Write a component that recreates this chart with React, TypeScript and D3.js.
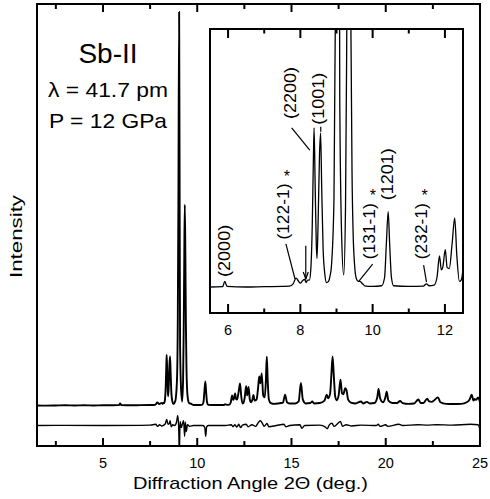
import React from "react";
import * as d3 from "d3";

// ---------- DATA ----------
// Observed pattern: [2Theta (deg), intensity (arb. units)]
const observedPattern: [number, number][] = [
  [1.5, 0.0], [2.0, -0.05], [2.5, 0.0], [3.0, 0.05], [3.5, 0.0], [4.0, 0.05], [4.5, 0.0],
  [5.0, 0.05], [5.5, 0.05], [5.85, 0.08], [5.91, 0.5], [5.97, 0.1], [6.5, 0.05], [7.0, 0.08],
  [7.5, 0.1], [7.7, 0.12], [7.8, 0.3], [7.88, 0.75], [7.95, 0.5], [8.0, 0.35], [8.06, 0.55],
  [8.12, 0.65], [8.16, 0.4], [8.2, 0.6], [8.25, 0.6], [8.29, 1.5], [8.33, 5], [8.36, 10],
  [8.38, 12.6], [8.41, 8], [8.44, 3.5], [8.46, 2.3], [8.49, 5], [8.53, 10.5], [8.56, 12.2],
  [8.59, 8], [8.63, 3], [8.68, 1.0], [8.72, 0.4], [8.78, 0.5], [8.82, 0.9], [8.86, 1.7],
  [8.93, 7], [8.97, 22], [9.0, 50], [9.04, 98], [9.07, 45], [9.09, 15], [9.14, 4.3],
  [9.2, 1.0], [9.25, 6.5], [9.28, 18], [9.31, 35], [9.34, 50], [9.37, 38], [9.4, 20],
  [9.43, 9], [9.46, 4.3], [9.5, 1.8], [9.55, 0.7], [9.6, 0.5], [9.65, 0.5], [9.72, 0.3],
  [9.8, 0.12], [10.0, 0.1], [10.25, 0.15], [10.33, 0.8], [10.38, 3.5], [10.43, 6.0],
  [10.47, 3.5], [10.52, 0.8], [10.58, 0.15], [11.0, 0.1], [11.4, 0.12], [11.49, 0.3],
  [11.56, 0.15], [11.7, 0.2], [11.78, 0.8], [11.85, 2.5], [11.9, 1.4], [11.94, 1.6],
  [12.01, 3.0], [12.06, 1.6], [12.12, 1.5], [12.2, 3.5], [12.27, 5.5], [12.33, 2.5],
  [12.4, 0.5], [12.45, 0.6], [12.52, 2.0], [12.59, 4.8], [12.65, 2.5], [12.72, 4.6],
  [12.79, 1.5], [12.86, 0.8], [12.93, 1.5], [12.98, 2.6], [13.05, 1.2], [13.15, 1.5],
  [13.22, 4], [13.29, 7.2], [13.35, 5.5], [13.42, 8.0], [13.5, 2.5], [13.58, 2.0],
  [13.64, 6], [13.69, 12.2], [13.74, 6], [13.8, 1.5], [13.9, 0.6], [14.1, 0.4], [14.3, 0.5],
  [14.55, 0.7], [14.66, 2.7], [14.76, 0.8], [14.9, 0.5], [15.2, 0.5], [15.38, 1.0],
  [15.5, 5.6], [15.6, 1.5], [15.75, 0.5], [16.0, 0.6], [16.1, 1.0], [16.2, 0.5], [16.5, 0.6],
  [16.75, 1.2], [16.87, 2.7], [16.95, 1.8], [17.05, 3], [17.12, 8], [17.18, 12.2],
  [17.25, 7], [17.32, 2.2], [17.4, 1.3], [17.5, 2.5], [17.6, 6.4], [17.68, 3.0],
  [17.75, 2.8], [17.85, 4.3], [17.92, 3.8], [18.0, 1.5], [18.15, 0.7], [18.4, 0.5],
  [18.69, 1.0], [18.8, 0.5], [19.0, 0.9], [19.15, 0.5], [19.4, 0.6], [19.55, 2.0],
  [19.62, 4.1], [19.7, 1.8], [19.85, 0.8], [19.98, 2.0], [20.05, 3.4], [20.14, 1.2],
  [20.35, 0.6], [20.6, 0.6], [20.76, 1.1], [20.9, 0.6], [21.2, 0.4], [21.5, 0.5],
  [21.73, 1.5], [21.85, 0.6], [22.0, 0.6], [22.2, 1.7], [22.3, 1.0], [22.45, 0.9],
  [22.62, 1.5], [22.77, 2.0], [22.9, 0.8], [23.2, 0.4], [23.6, 0.35], [24.0, 0.4],
  [24.3, 0.8], [24.45, 1.5], [24.56, 2.7], [24.65, 1.2], [24.72, 1.6], [24.8, 1.4],
  [24.9, 2.0], [25.0, 0.8],
];

// Difference (observed - calculated): [2Theta, residual]
const differencePattern: [number, number][] = [
  [1.5, 0.0], [3.0, 0.05], [5.0, 0.0], [7.0, 0.05], [7.5, 0.1], [7.8, 0.3], [7.9, -0.2],
  [8.0, 0.2], [8.1, -0.1], [8.3, 0.4], [8.38, 1.5], [8.45, 0.3], [8.52, 0.5], [8.56, 1.2],
  [8.62, -0.3], [8.7, 0.2], [8.8, 0.0], [8.9, 0.8], [8.97, 2.5], [9.02, -1], [9.05, -7],
  [9.09, 1.0], [9.15, -0.5], [9.22, 0.5], [9.28, 1.2], [9.33, -2.7], [9.37, 0.8],
  [9.42, -1.5], [9.48, 0.2], [9.6, -0.2], [9.8, 0.0], [10.3, 0.0], [10.4, -0.5],
  [10.45, -2.7], [10.5, -0.3], [10.6, 0.0], [11.5, 0.0], [11.8, 0.2], [11.9, -0.3],
  [12.0, 0.2], [12.1, -0.4], [12.2, 0.3], [12.3, -0.5], [12.4, 0.1], [12.6, 0.3],
  [12.7, -0.3], [12.9, 0.2], [13.1, -0.2], [13.25, 0.8], [13.35, 1.2], [13.45, 0.6],
  [13.55, -0.2], [13.7, 0.5], [13.8, -0.3], [14.2, 0.0], [14.6, 0.3], [14.7, -0.3],
  [14.9, 0.0], [15.45, 0.2], [15.55, -0.7], [15.7, 0.0], [16.5, 0.1], [16.8, -0.4],
  [16.9, -0.8], [17.0, 0.1], [17.15, 0.6], [17.25, -0.2], [17.6, 1.0], [17.7, -0.2],
  [17.9, 0.2], [18.2, -0.1], [18.7, 0.1], [19.5, 0.0], [19.6, 0.3], [19.7, -0.2],
  [20.0, 0.2], [20.1, -0.2], [20.7, 0.3], [20.9, 0.0], [21.7, 0.2], [22.2, 0.1],
  [22.7, 0.2], [23.5, 0.1], [24.5, 0.3], [24.9, 0.2], [25.0, -1.2],
];
const differenceOffset = -5;

const mainTickValues = [2.5, 5, 7.5, 10, 12.5, 15, 17.5, 20, 22.5, 25];
const mainTickLabels = [5, 10, 15, 20, 25];
const insetTickValues = [6, 7, 8, 9, 10, 11, 12];
const insetTickLabels = [6, 8, 10, 12];

const titleLines = ["Sb-II", "\u03bb = 41.7 pm", "P = 12 GPa"];
const xAxisTitle = "Diffraction Angle 2\u0398 (deg.)";
const yAxisTitle = "Intensity";

// Peak labels in inset: text, 2Theta of column, intensity level of column centre, star
const peakLabels = [
  { text: "(2000)", angle: 5.94, level: 2.9, star: false },
  { text: "(122-1)", angle: 7.57, level: 6.0, star: true },
  { text: "(2200)", angle: 7.77, level: 15.35, star: false },
  { text: "(1001)", angle: 8.54, level: 14.9, star: false },
  { text: "(131-1)", angle: 9.95, level: 4.45, star: true },
  { text: "(1201)", angle: 10.44, level: 8.95, star: false },
  { text: "(232-1)", angle: 11.38, level: 4.45, star: true },
];
// Leader lines in inset data units: [angle1, level1, angle2, level2]
const leaderLines: [number, number, number, number][] = [
  [7.6, 3.45, 7.85, 0.7],
  [7.76, 12.6, 8.26, 10.85],
  [8.565, 12.7, 8.565, 12.3],
  [10.0, 1.86, 9.62, 0.52],
  [11.41, 1.78, 11.49, 0.44],
];
const markerArrow = { angle: 8.15, from: 3.3, to: 0.68 };

export default function App() {
  const W = 490;
  const H = 499;
  const font = "'Liberation Sans', Arial, Helvetica, sans-serif";

  // main plot scales
  const x = d3.scaleLinear().domain([1.5, 25]).range([37, 480]);
  const y = d3.scaleLinear().domain([-10.1, 100]).range([446, 4]);
  const [x0, x1] = x.range();
  const [y0, y1] = [y.range()[1], y.range()[0]];

  // inset scales
  const xi = d3.scaleLinear().domain([5.5, 12.5]).range([210, 463]);
  const yi = d3.scaleLinear().domain([-2, 20.4]).range([313, 29]);
  const [ix0, ix1] = xi.range();
  const [iy0, iy1] = [yi.range()[1], yi.range()[0]];

  const mainLine = d3
    .line<[number, number]>()
    .x((d) => x(d[0]))
    .y((d) => y(d[1]))
    .curve(d3.curveMonotoneX);
  const diffLine = d3
    .line<[number, number]>()
    .x((d) => x(d[0]))
    .y((d) => y(d[1] + differenceOffset))
    .curve(d3.curveMonotoneX);
  const insetData = observedPattern.filter((d) => d[0] >= 5.4 && d[0] <= 12.6);
  const insetLine = d3
    .line<[number, number]>()
    .x((d) => xi(d[0]))
    .y((d) => yi(d[1]))
    .curve(d3.curveMonotoneX);

  const isMajorMain = (v: number) => Math.abs(v % 5) < 1e-6;
  const isMajorInset = (v: number) => v % 2 === 0;

  const labelSize = 16;
  const ax = xi(markerArrow.angle);
  const ayTop = yi(markerArrow.from);
  const ayTip = yi(markerArrow.to);

  return (
    <svg
      width={W}
      height={H}
      viewBox={`0 0 ${W} ${H}`}
      style={{ position: "absolute", left: 0, top: 0, display: "block", background: "#fff" }}
      fontFamily={font}
    >
      <defs>
        <clipPath id="mainClip">
          <rect x={x0} y={y0} width={x1 - x0} height={y1 - y0} />
        </clipPath>
        <clipPath id="insetClip">
          <rect x={ix0} y={iy0} width={ix1 - ix0} height={iy1 - iy0} />
        </clipPath>
      </defs>
      <rect x={0} y={0} width={W} height={H} fill="#fff" />

      {/* main curves */}
      <g clipPath="url(#mainClip)">
        <path d={mainLine(observedPattern) || ""} fill="none" stroke="#000" strokeWidth={1.9} strokeLinejoin="round" />
        <path d={diffLine(differencePattern) || ""} fill="none" stroke="#000" strokeWidth={1.4} strokeLinejoin="round" />
      </g>

      {/* main frame */}
      <rect x={x0} y={y0} width={x1 - x0} height={y1 - y0} fill="none" stroke="#000" strokeWidth={2} />
      {mainTickValues.map((v) => {
        const len = isMajorMain(v) ? 8 : 5;
        const px = x(v);
        return (
          <g key={"mt" + v}>
            <line x1={px} x2={px} y1={y1} y2={y1 - len} stroke="#000" strokeWidth={2} />
            <line x1={px} x2={px} y1={y0} y2={y0 + len} stroke="#000" strokeWidth={2} />
          </g>
        );
      })}
      {mainTickLabels.map((v) => (
        <text key={"ml" + v} x={x(v)} y={468} fontSize={14.5} textAnchor="middle" fill="#000">
          {v}
        </text>
      ))}
      <text x={250.5} y={489} fontSize={17} textAnchor="middle" textLength={235} lengthAdjust="spacingAndGlyphs" fill="#000">
        {xAxisTitle}
      </text>
      <text
        transform={`translate(21.5, 236.5) rotate(-90)`}
        fontSize={16.5}
        textAnchor="middle"
        textLength={83}
        lengthAdjust="spacingAndGlyphs"
        fill="#000"
      >
        {yAxisTitle}
      </text>

      {/* title block */}
      <text x={108} y={63} fontSize={28} textAnchor="middle" fill="#000">
        {titleLines[0]}
      </text>
      <text x={108} y={97} fontSize={21} textAnchor="middle" textLength={120} lengthAdjust="spacingAndGlyphs" fill="#000">
        {titleLines[1]}
      </text>
      <text x={108} y={128} fontSize={21} textAnchor="middle" textLength={118} lengthAdjust="spacingAndGlyphs" fill="#000">
        {titleLines[2]}
      </text>

      {/* inset */}
      <rect x={ix0} y={iy0} width={ix1 - ix0} height={iy1 - iy0} fill="#fff" stroke="none" />
      <g clipPath="url(#insetClip)">
        <path d={insetLine(insetData) || ""} fill="none" stroke="#000" strokeWidth={1.3} strokeLinejoin="round" />
      </g>
      <rect x={ix0} y={iy0} width={ix1 - ix0} height={iy1 - iy0} fill="none" stroke="#000" strokeWidth={2} />
      {insetTickValues.map((v) => {
        const len = isMajorInset(v) ? 9 : 4.5;
        const px = xi(v);
        return (
          <g key={"it" + v}>
            <line x1={px} x2={px} y1={iy1} y2={iy1 - len} stroke="#000" strokeWidth={2} />
            <line x1={px} x2={px} y1={iy0} y2={iy0 + len} stroke="#000" strokeWidth={2} />
          </g>
        );
      })}
      {insetTickLabels.map((v) => (
        <text key={"il" + v} x={xi(v)} y={335} fontSize={14.5} textAnchor="middle" fill="#000">
          {v}
        </text>
      ))}

      {/* peak labels */}
      {peakLabels.map((p) => {
        const cx = xi(p.angle);
        const cy = yi(p.level);
        const len = p.text.length === 7 ? 56 : 52;
        return (
          <g key={p.text}>
            <text
              transform={`translate(${cx + 4.2}, ${cy}) rotate(-90)`}
              fontSize={labelSize}
              textAnchor="middle"
              textLength={len}
              lengthAdjust="spacingAndGlyphs"
              fill="#000"
            >
              {p.text}
            </text>
            {p.star && (
              <text x={cx + 2} y={cy - len / 2 - 2} fontSize={labelSize} textAnchor="middle" fill="#000">
                *
              </text>
            )}
          </g>
        );
      })}
      {leaderLines.map((l, i) => (
        <line
          key={"ll" + i}
          x1={xi(l[0])}
          y1={yi(l[1])}
          x2={xi(l[2])}
          y2={yi(l[3])}
          stroke="#000"
          strokeWidth={1.2}
        />
      ))}
      {/* arrow */}
      <line x1={ax} x2={ax} y1={ayTop} y2={ayTip} stroke="#000" strokeWidth={1.2} />
      <path d={`M${ax - 2.5},${ayTip - 7} L${ax},${ayTip} L${ax + 2.5},${ayTip - 7}`} fill="none" stroke="#000" strokeWidth={1.2} />
    </svg>
  );
}
